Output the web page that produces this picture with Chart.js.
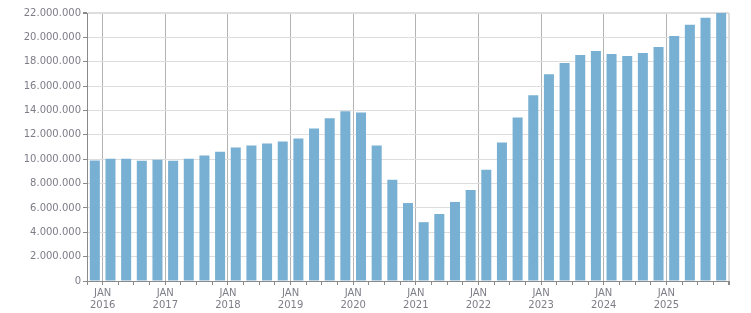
<!DOCTYPE html>
<html>
<head>
<meta charset="utf-8">
<script src="https://cdn.jsdelivr.net/npm/chart.js@4/dist/chart.umd.min.js"></script>
<style>
html,body{margin:0;padding:0;background:#fff;}
#wrap{width:751px;height:313px;position:relative;}
</style>
</head>
<body>
<div id="wrap"><canvas id="c" width="751" height="313"></canvas></div>
<script>
// Quarters (bar i spans the quarter that starts at boundary i on the x axis)
const quarters = ['2015-Q4',
  '2016-Q1','2016-Q2','2016-Q3','2016-Q4',
  '2017-Q1','2017-Q2','2017-Q3','2017-Q4',
  '2018-Q1','2018-Q2','2018-Q3','2018-Q4',
  '2019-Q1','2019-Q2','2019-Q3','2019-Q4',
  '2020-Q1','2020-Q2','2020-Q3','2020-Q4',
  '2021-Q1','2021-Q2','2021-Q3','2021-Q4',
  '2022-Q1','2022-Q2','2022-Q3','2022-Q4',
  '2023-Q1','2023-Q2','2023-Q3','2023-Q4',
  '2024-Q1','2024-Q2','2024-Q3','2024-Q4',
  '2025-Q1','2025-Q2','2025-Q3','2025-Q4'];
const values = [9900000,
  10040000,10040000,9880000,9960000,
  9880000,10040000,10310000,10620000,
  10950000,11120000,11280000,11450000,
  11690000,12520000,13350000,13930000,
  13840000,11120000,8310000,6400000,
  4830000,5500000,6490000,7480000,
  9130000,11360000,13430000,15250000,
  16980000,17890000,18550000,18880000,
  18640000,18470000,18720000,19210000,
  20120000,21030000,21610000,22100000];
const yearLabels = ['2016','2017','2018','2019','2020','2021','2022','2023','2024','2025'];
const monthLabel = 'JAN';
const yTicks = [0,2000000,4000000,6000000,8000000,10000000,12000000,14000000,16000000,18000000,20000000,22000000];

const TEXT = '#7d7d88';
const fmt = v => String(Math.round(v)).replace(/\B(?=(\d{3})+(?!\d))/g, '.');
const isJan = v => v >= 1 && (v - 1) % 4 === 0 && (v - 1) / 4 < yearLabels.length;

new Chart(document.getElementById('c'), {
  type: 'bar',
  data: {
    datasets: [{
      data: values.map((v, i) => ({x: i + 0.5, y: v})),
      backgroundColor: '#78b0d3',
      borderWidth: 0,
      barPercentage: 0.64,
      categoryPercentage: 1.0
    }]
  },
  options: {
    responsive: false,
    animation: false,
    devicePixelRatio: 1,
    layout: {padding: {top: 13, right: 22, bottom: 0, left: 0}},
    plugins: {legend: {display: false}, tooltip: {enabled: false}},
    scales: {
      x: {
        type: 'linear',
        offset: false,
        min: 0,
        max: quarters.length,
        afterBuildTicks: s => { s.ticks = []; for (let i = 0; i <= quarters.length; i++) s.ticks.push({value: i}); },
        afterFit: s => { s.height = 32; },
        border: {color: '#8a8a8a', width: 1},
        grid: {
          offset: false,
          color: c => {
            const v = c.tick ? c.tick.value : -1;
            if (v === quarters.length) return '#dddddd';
            return isJan(v) ? '#b3b3b3' : 'rgba(0,0,0,0)';
          },
          lineWidth: c => (c.tick && c.tick.value === quarters.length) ? 2 : 1,
          tickColor: '#8a8a8a',
          tickLength: 4,
          drawTicks: true
        },
        ticks: {
          autoSkip: false,
          maxRotation: 0,
          minRotation: 0,
          padding: 2,
          color: TEXT,
          font: {family: 'DejaVu Sans', size: 10, lineHeight: 1.25},
          callback: v => isJan(v) ? [monthLabel, yearLabels[(v - 1) / 4]] : ''
        }
      },
      y: {
        min: 0,
        max: 22000000,
        afterBuildTicks: s => { s.ticks = yTicks.map(v => ({value: v})); },
        afterFit: s => { s.width = 87; },
        border: {color: '#8a8a8a', width: 1},
        grid: {
          color: '#dddddd',
          lineWidth: c => (c.tick && c.tick.value === 22000000) ? 2 : 1,
          tickColor: '#8a8a8a',
          tickLength: 4
        },
        ticks: {
          padding: 2,
          color: TEXT,
          font: {family: 'DejaVu Sans', size: 10},
          callback: v => fmt(v)
        }
      }
    }
  }
});
</script>
</body>
</html>
